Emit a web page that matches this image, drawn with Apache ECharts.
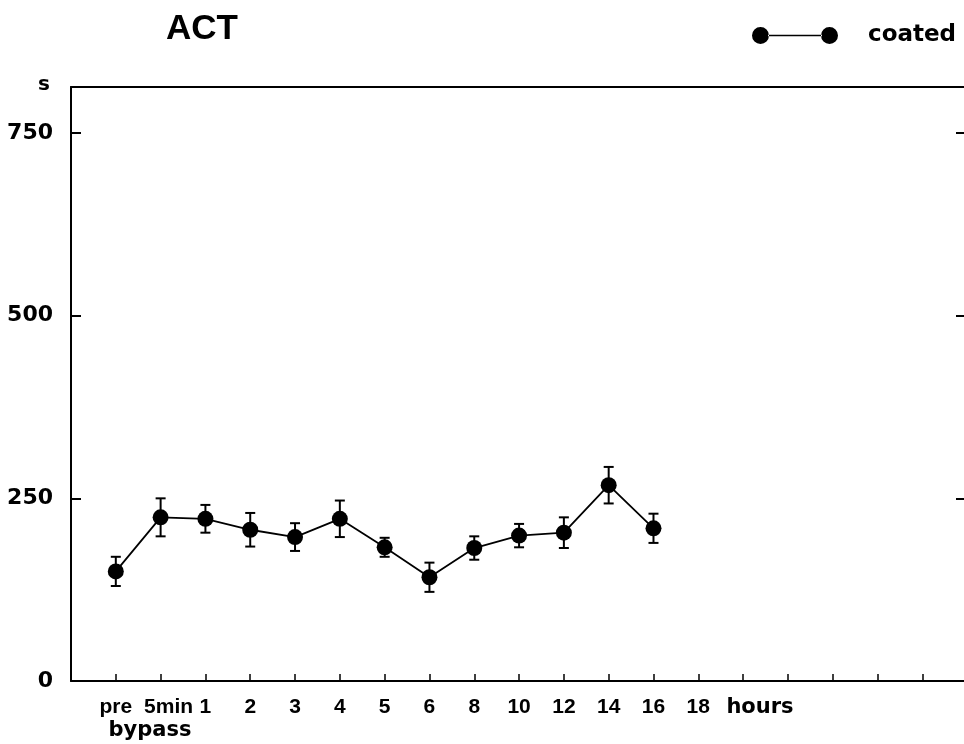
<!DOCTYPE html>
<html>
<head>
<meta charset="utf-8">
<script src="https://cdn.jsdelivr.net/npm/echarts@6/dist/echarts.min.js"></script>
<style>
html,body{margin:0;padding:0;background:#fff;}
#chart{width:964px;height:744px;}
</style>
</head>
<body>
<div id="chart"></div>
<script>
// Tick labels for the x axis (positions 0..18)
var tickLabels = ['pre', '5min', '1', '2', '3', '4', '5', '6', '8', '10', '12', '14', '16', '18', '', '', '', '', ''];
// Measured time points (index into tickLabels)
var pointIndex = [0, 1, 2, 3, 4, 5, 6, 7, 8, 9, 10, 11, 12];
// ACT (s), coated circuit: means and error bars
var coatedMean = [150, 224, 222, 207, 197, 222, 183, 142, 182, 199, 203, 268, 209];
var coatedErr  = [20, 26, 19, 23, 19, 25, 13, 20, 16, 16, 21, 25, 20];
var yTicks = [0, 250, 500, 750];

var lineData = pointIndex.map(function (x, i) { return [x, coatedMean[i]]; });
var errData = pointIndex.map(function (x, i) { return [x, coatedMean[i], coatedErr[i]]; });

var chart = echarts.init(document.getElementById('chart'), null, {renderer: 'canvas'});
var labelFont = 'Liberation Sans';
var numFont = 'DejaVu Sans';

chart.setOption({
  animation: false,
  backgroundColor: '#fff',
  title: {
    text: 'ACT',
    left: 161,
    top: 7,
    textStyle: {fontFamily: 'Liberation Sans', fontWeight: 'bold', fontSize: 35, color: '#000'}
  },
  legend: {
    data: ['coated'],
    left: 752,
    top: 24,
    padding: 0,
    itemWidth: 86,
    itemHeight: 17,
    icon: 'path://M0,8.5a8.5,8.5 0 1,0 17,0a8.5,8.5 0 1,0 -17,0zM69,8.5a8.5,8.5 0 1,0 17,0a8.5,8.5 0 1,0 -17,0zM16,7.7h54v1.6h-54z',
    textStyle: {fontFamily: numFont, fontWeight: 'bold', fontSize: 23, color: '#000', padding: [0, 0, 0, 25]}
  },
  grid: {
    left: 71, top: 87, right: -4, bottom: 63,
    show: false
  },
  xAxis: [{
    type: 'value',
    min: -1,
    max: 18.93,
    interval: 1,
    splitLine: {show: false},
    axisLine: {show: true, onZero: false, lineStyle: {color: '#000', width: 2}},
    axisTick: {show: true, inside: true, length: 7, lineStyle: {color: '#000', width: 1.5}},
    axisLabel: {
      show: true,
      showMinLabel: false,
      showMaxLabel: false,
      margin: 16,
      color: '#000',
      fontFamily: labelFont,
      fontWeight: 'bold',
      fontSize: 21,
      formatter: function (v) {
        var i = Math.round(v);
        if (Math.abs(v - i) > 1e-6 || i < 0 || i >= tickLabels.length) return '';
        if (tickLabels[i] === '5min') return '{s|5min}';
        return tickLabels[i];
      },
      rich: {
        s: {fontFamily: labelFont, fontWeight: 'bold', fontSize: 21, color: '#000', padding: [0, 0, 0, 16]}
      }
    }
  }, {
    type: 'value',
    position: 'top',
    min: -1,
    max: 18.93,
    interval: 1,
    splitLine: {show: false},
    axisLine: {show: true, onZero: false, lineStyle: {color: '#000', width: 2}},
    axisTick: {show: false},
    axisLabel: {show: false}
  }],
  yAxis: [{
    type: 'value',
    min: 0,
    max: 813,
    interval: 250,
    name: 's',
    nameLocation: 'end',
    nameGap: 2,
    nameTextStyle: {fontFamily: numFont, fontWeight: 'bold', fontSize: 20, color: '#000', align: 'right', verticalAlign: 'middle', padding: [0, 21, 0, 0]},
    splitLine: {show: false},
    axisLine: {show: true, onZero: false, lineStyle: {color: '#000', width: 2}},
    axisTick: {show: true, inside: true, length: 10, lineStyle: {color: '#000', width: 2}},
    axisLabel: {
      showMaxLabel: false,
      margin: 18,
      color: '#000',
      fontFamily: numFont,
      fontWeight: 'bold',
      fontSize: 22,
      formatter: function (v) { return yTicks.indexOf(v) >= 0 ? String(v) : ''; }
    }
  }, {
    type: 'value',
    position: 'right',
    min: 0,
    max: 813,
    interval: 250,
    splitLine: {show: false},
    axisLine: {show: false, onZero: false},
    axisTick: {show: true, inside: true, length: 8, lineStyle: {color: '#000', width: 2}},
    axisLabel: {show: false}
  }],
  graphic: [
    {type: 'text', x: 150, y: 731, style: {text: 'bypass', font: 'bold 21px "DejaVu Sans"', fill: '#000', textAlign: 'center', textVerticalAlign: 'middle'}},
    {type: 'text', x: 760, y: 708, style: {text: 'hours', font: 'bold 21px "DejaVu Sans"', fill: '#000', textAlign: 'center', textVerticalAlign: 'middle'}}
  ],
  series: [{
    name: 'error',
    type: 'custom',
    data: errData,
    z: 2,
    renderItem: function (params, api) {
      var x = api.value(0), y = api.value(1), e = api.value(2);
      var hi = api.coord([x, y + e]), lo = api.coord([x, y - e]);
      var w = 5;
      var st = {stroke: '#000', lineWidth: 2};
      return {type: 'group', children: [
        {type: 'line', shape: {x1: hi[0], y1: hi[1], x2: lo[0], y2: lo[1]}, style: st},
        {type: 'line', shape: {x1: hi[0] - w, y1: hi[1], x2: hi[0] + w, y2: hi[1]}, style: st},
        {type: 'line', shape: {x1: lo[0] - w, y1: lo[1], x2: lo[0] + w, y2: lo[1]}, style: st}
      ]};
    }
  }, {
    name: 'coated',
    type: 'line',
    data: lineData,
    z: 3,
    symbol: 'circle',
    symbolSize: 16,
    color: '#000',
    itemStyle: {color: '#000'},
    lineStyle: {color: '#000', width: 1.8}
  }]
});
</script>
</body>
</html>
